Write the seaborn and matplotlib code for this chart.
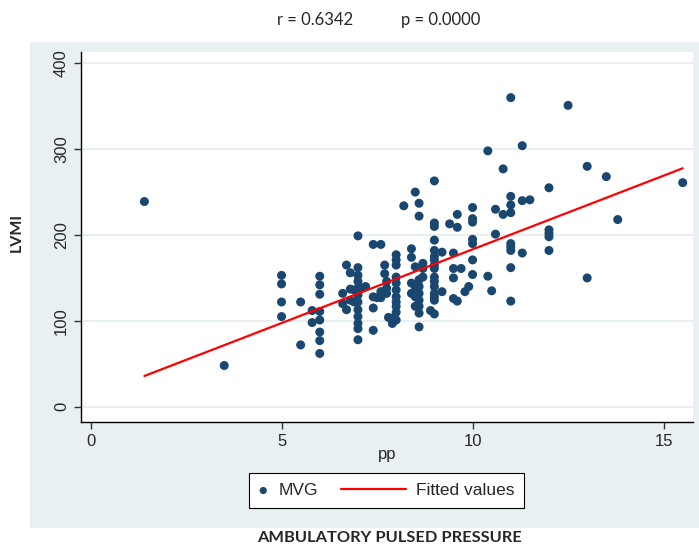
import numpy as np
import pandas as pd
import seaborn as sns
import matplotlib.pyplot as plt
from matplotlib.patches import Rectangle
from matplotlib.lines import Line2D
from matplotlib.legend_handler import HandlerLine2D

# pp (ambulatory pulsed pressure) vs LVMI
pp = [1.41, 3.5,
      5.0, 5.0, 5.0, 5.0,
      5.5, 5.5,
      5.8, 5.8,
      6.0, 6.0, 6.0, 6.0, 6.0, 6.0, 6.0, 6.0,
      6.6, 6.6, 6.7, 6.7, 6.8, 6.8, 6.8, 6.9, 6.9,
      7.0, 7.0, 7.0, 7.0, 7.0, 7.0, 7.0, 7.0, 7.0, 7.0, 7.0, 7.0,
      7.1, 7.2,
      7.4, 7.4, 7.4, 7.4, 7.5,
      7.6, 7.6, 7.6, 7.7, 7.7, 7.75, 7.75, 7.75, 7.8, 7.9, 7.9,
      8.0, 8.0, 8.0, 8.0, 8.0, 8.0, 8.0, 8.0, 8.0, 8.0, 8.0,
      8.2, 8.4, 8.4, 8.4, 8.4,
      8.5, 8.5, 8.5, 8.5, 8.5,
      8.6, 8.6, 8.6, 8.6, 8.6, 8.6, 8.6, 8.6, 8.6,
      8.7, 8.7, 8.7, 8.9,
      9.0, 9.0, 9.0, 9.0, 9.0, 9.0, 9.0, 9.0, 9.0, 9.0, 9.0, 9.0, 9.0, 9.0, 9.0, 9.0,
      9.2, 9.2, 9.4, 9.5, 9.5, 9.5, 9.5, 9.6, 9.6, 9.6, 9.7, 9.8, 9.9,
      10.0, 10.0, 10.0, 10.0, 10.0, 10.0, 10.0,
      10.4, 10.4, 10.5, 10.6, 10.6, 10.8, 10.8,
      11.0, 11.0, 11.0, 11.0, 11.0, 11.0, 11.0, 11.0, 11.0,
      11.3, 11.3, 11.3, 11.5,
      12.0, 12.0, 12.0, 12.0, 12.0,
      12.5, 13.0, 13.0, 13.5, 13.8, 15.5]

lvmi = [239, 48,
        153, 143, 122, 105,
        122, 72,
        112, 98,
        152, 142, 131, 111, 101, 87, 77, 62,
        132, 120, 165, 113, 156, 137, 124, 122, 136,
        199, 162, 153, 146, 138, 130, 122, 113, 105, 97, 91, 78,
        138, 140,
        189, 128, 115, 89, 127,
        189, 127, 134, 165, 155, 146, 138, 132, 104, 97, 103,
        177, 171, 165, 151, 144, 136, 128, 117, 110, 101, 122,
        234, 184, 174, 144, 132,
        250, 163, 140, 128, 117,
        237, 222, 148, 140, 132, 124, 117, 109, 93,
        167, 161, 151, 112,
        263, 214, 210, 194, 182, 175, 171, 165, 161, 151, 146, 140, 132, 128, 124, 108,
        180, 134, 213, 179, 161, 150, 126, 224, 209, 123, 161, 134, 140,
        232, 219, 215, 195, 190, 171, 154,
        298, 152, 135, 230, 201, 277, 224,
        360, 245, 235, 226, 190, 186, 182, 162, 123,
        304, 240, 179, 241,
        255, 206, 202, 198, 182,
        351, 280, 150, 268, 218, 261]

# fitted values line, ends
fit_pp = [1.41, 15.5]
fit_lvmi = [35.8, 277.7]

r_text = "r = 0.6342"
p_text = "p = 0.0000"

df = pd.DataFrame({"pp": pp, "LVMI": lvmi})
fit_df = pd.DataFrame({"pp": fit_pp, "LVMI": fit_lvmi})

W, H = 699, 546
navy = "#1a476f"
bg = "#e9f0f2"


class LongLine(HandlerLine2D):
    # legend line that reaches back into the column gap, like Stata's key
    def create_artists(self, legend, orig_handle, xdescent, ydescent,
                       width, height, fontsize, trans):
        y = height / 2 - ydescent
        line = Line2D([-xdescent - 3.2 * fontsize, -xdescent + width], [y, y])
        self.update_prop(line, orig_handle, legend)
        line.set_transform(trans)
        return [line]


sns.set_style("white")
plt.rcParams["font.family"] = ["Liberation Sans", "DejaVu Sans"]

fig = plt.figure(figsize=(W / 100, H / 100), dpi=100, facecolor="white")
fig.patches.append(Rectangle((30 / W, 1 - 528 / H), (W - 30) / W, 486 / H,
                             transform=fig.transFigure, facecolor=bg,
                             edgecolor="none", zorder=-10))

ax = fig.add_axes([80.7 / W, 1 - 422 / H, (693 - 80.7) / W, (422 - 52.3) / H])
ax.set_facecolor("white")

sns.scatterplot(data=df, x="pp", y="LVMI", ax=ax, color=navy, s=42,
                edgecolor="none", label="MVG", zorder=3)
sns.lineplot(data=fit_df, x="pp", y="LVMI", ax=ax, color="red", lw=1.6,
             label="Fitted values", zorder=4)

ax.set_xlim(-0.257, 15.77)
ax.set_ylim(-17.8, 412.8)
ax.set_xticks([0, 5, 10, 15])
ax.set_yticks([0, 100, 200, 300, 400])
ax.yaxis.grid(True, color="#e6eef0", lw=1.3)
ax.set_axisbelow(True)
for s in ["top", "right"]:
    ax.spines[s].set_visible(False)
for s in ["left", "bottom"]:
    ax.spines[s].set_color("black")
    ax.spines[s].set_linewidth(1)
ax.tick_params(axis="both", direction="out", length=5, width=1, color="#333333",
               labelsize=12, left=True, bottom=True)
ax.tick_params(axis="y", labelrotation=90)
for lab in ax.get_yticklabels():
    lab.set_va("center")
ax.set_xlabel("pp", fontsize=12, labelpad=-1)
ax.set_ylabel("")

handles, labels = ax.get_legend_handles_labels()
if ax.get_legend():
    ax.get_legend().remove()
leg = fig.legend(handles, labels, loc="center",
                 bbox_to_anchor=(386.5 / W, 1 - 490.5 / H), ncol=2,
                 frameon=True, fancybox=False, edgecolor="black",
                 framealpha=1, fontsize=12.5, handlelength=0.55,
                 columnspacing=4.5, handletextpad=0.6, borderpad=0.55,
                 markerscale=0.8, handler_map={Line2D: LongLine()})
leg.get_frame().set_linewidth(0.8)

fig.text(277 / W, 1 - 20 / H, r_text, ha="left", va="center",
         fontsize=12, family=["Lato", "DejaVu Sans"])
fig.text(401 / W, 1 - 20 / H, p_text, ha="left", va="center",
         fontsize=12, family=["Lato", "DejaVu Sans"])
fig.text(17 / W, 1 - 232 / H, "LVMI", rotation=90, ha="center", va="center",
         fontsize=11.5, fontweight="bold", family=["Lato", "DejaVu Sans"])
fig.text(389 / W, 1 - 538 / H, "AMBULATORY PULSED PRESSURE", ha="center",
         va="center", fontsize=11.8, fontweight="bold",
         family=["Lato", "DejaVu Sans"])

fig.savefig("out.png", dpi=100, facecolor="white")
